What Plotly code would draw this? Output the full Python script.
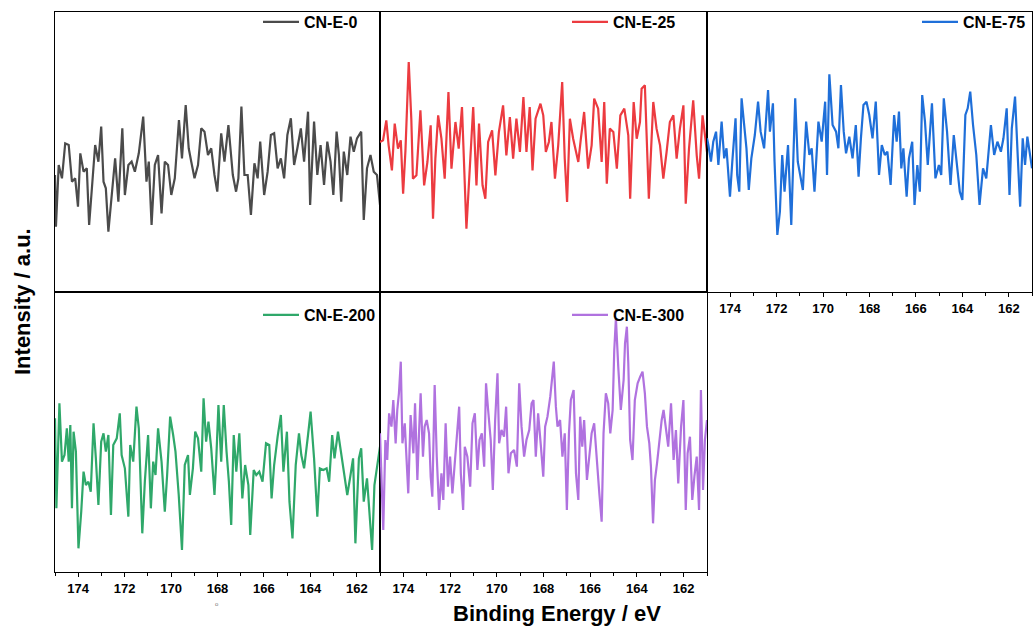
import plotly.graph_objects as go

# ---------------- data ----------------
tick_energies = [174, 172, 170, 168, 166, 164, 162]
series_names = ["CN-E-0", "CN-E-25", "CN-E-75", "CN-E-200", "CN-E-300"]
series_colors = ["#4b4b4b", "#ec3b40", "#1f6fd9", "#2fa86a", "#b072df"]

energy_0 = [175.00, 174.96, 174.84, 174.70, 174.56, 174.41, 174.27, 174.13, 174.01, 173.91,
            173.77, 173.63, 173.53, 173.41, 173.27, 173.13, 173.01, 172.91, 172.81, 172.70,
            172.56, 172.41, 172.27, 172.10, 171.99, 171.84, 171.70, 171.56, 171.39, 171.20,
            171.06, 170.96, 170.84, 170.70, 170.56, 170.41, 170.27, 170.13, 169.99, 169.84,
            169.66, 169.53, 169.37, 169.24, 169.13, 168.99, 168.84, 168.70, 168.56, 168.41,
            168.27, 168.13, 168.01, 167.84, 167.70, 167.53, 167.34, 167.20, 167.10, 166.97,
            166.84, 166.70, 166.56, 166.41, 166.27, 166.16, 165.99, 165.84, 165.70, 165.56,
            165.41, 165.27, 165.13, 164.99, 164.84, 164.70, 164.56, 164.41, 164.27, 164.10,
            164.01, 163.84, 163.70, 163.56, 163.41, 163.27, 163.13, 163.01, 162.87, 162.77,
            162.67, 162.56, 162.41, 162.27, 162.13, 161.99, 161.81, 161.70, 161.56, 161.41,
            161.27, 161.13, 161.00]
intensity_0 = [760, 605, 790, 750, 855, 850, 740, 750, 665, 825,
               770, 780, 610, 730, 850, 800, 905, 740, 720, 590,
               700, 810, 680, 900, 700, 790, 800, 770, 825, 935,
               740, 800, 610, 790, 820, 645, 800, 790, 700, 750,
               925, 810, 970, 840, 800, 750, 790, 900, 890, 820,
               840, 760, 710, 885, 800, 910, 760, 710, 750, 965,
               760, 760, 640, 795, 750, 860, 700, 770, 880, 885,
               780, 810, 750, 880, 930, 790, 840, 900, 800, 950,
               670, 920, 760, 850, 730, 860, 800, 700, 890, 820,
               680, 830, 760, 875, 830, 870, 890, 625, 780, 820,
               770, 760, 670]

energy_25 = [175.00, 174.87, 174.73, 174.63, 174.49, 174.37, 174.23, 174.11, 174.01, 173.91,
             173.77, 173.66, 173.59, 173.44, 173.27, 173.11, 172.97, 172.83, 172.73, 172.63,
             172.51, 172.37, 172.23, 172.07, 171.94, 171.77, 171.63, 171.49, 171.30, 171.16,
             171.01, 170.87, 170.76, 170.61, 170.49, 170.37, 170.20, 170.06, 169.91, 169.73,
             169.59, 169.44, 169.30, 169.16, 169.01, 168.86, 168.73, 168.59, 168.47, 168.34,
             168.13, 168.01, 167.90, 167.77, 167.66, 167.51, 167.37, 167.20, 167.09, 166.99,
             166.87, 166.73, 166.63, 166.51, 166.40, 166.26, 166.09, 165.94, 165.83, 165.66,
             165.51, 165.40, 165.29, 165.16, 165.01, 164.86, 164.71, 164.54, 164.37, 164.29,
             164.14, 164.01, 163.87, 163.80, 163.66, 163.59, 163.49, 163.30, 163.16, 163.01,
             162.87, 162.73, 162.59, 162.44, 162.30, 162.16, 162.01, 161.91, 161.77, 161.59,
             161.44, 161.34, 161.19, 161.00]
intensity_25 = [730, 735, 795, 720, 645, 785, 710, 735, 575, 705,
                970, 800, 620, 630, 825, 600, 670, 780, 500, 680,
                810, 740, 620, 880, 650, 790, 710, 835, 470, 660,
                835, 600, 785, 600, 560, 730, 765, 630, 760, 840,
                690, 805, 680, 800, 700, 865, 700, 835, 645, 800,
                845, 810, 700, 730, 790, 620, 720, 910, 680, 550,
                800, 740, 710, 670, 740, 820, 650, 720, 860, 830,
                670, 850, 605, 770, 760, 650, 810, 830, 750, 560,
                850, 740, 790, 890, 900, 780, 560, 850, 770, 720,
                620, 700, 790, 810, 680, 770, 840, 545, 710, 855,
                690, 620, 810, 700]

energy_75 = [175.00, 174.94, 174.83, 174.73, 174.61, 174.51, 174.37, 174.26, 174.16, 174.01,
             173.91, 173.77, 173.70, 173.61, 173.51, 173.40, 173.30, 173.20, 173.09, 172.94,
             172.80, 172.69, 172.54, 172.37, 172.29, 172.16, 172.09, 171.97, 171.86, 171.76,
             171.66, 171.51, 171.37, 171.20, 171.09, 170.87, 170.73, 170.59, 170.49, 170.37,
             170.20, 170.06, 169.91, 169.83, 169.73, 169.59, 169.44, 169.34, 169.23, 169.11,
             169.01, 168.87, 168.73, 168.59, 168.47, 168.37, 168.26, 168.13, 168.01, 167.87,
             167.73, 167.59, 167.47, 167.34, 167.23, 167.09, 166.94, 166.83, 166.73, 166.63,
             166.54, 166.40, 166.30, 166.16, 166.06, 165.94, 165.83, 165.73, 165.61, 165.49,
             165.31, 165.16, 165.01, 164.91, 164.80, 164.66, 164.51, 164.37, 164.27, 164.11,
             164.00, 163.87, 163.77, 163.66, 163.54, 163.40, 163.26, 163.11, 162.97, 162.87,
             162.77, 162.63, 162.49, 162.34, 162.23, 162.09, 161.97, 161.87, 161.73, 161.61,
             161.51, 161.40, 161.30, 161.20, 161.00]
intensity_75 = [780, 760, 710, 770, 800, 700, 830, 720, 750, 605,
                710, 840, 670, 620, 900, 820, 750, 625, 720, 790,
                890, 800, 750, 925, 800, 885, 710, 490, 560, 730,
                620, 760, 520, 900, 710, 625, 830, 730, 750, 620,
                830, 770, 890, 670, 972, 820, 800, 750, 940, 800,
                735, 785, 720, 820, 665, 780, 880, 890, 850, 780,
                890, 670, 760, 730, 740, 640, 850, 770, 860, 690,
                750, 605, 720, 770, 580, 700, 620, 910, 830, 700,
                885, 660, 700, 670, 900, 800, 640, 790, 730, 620,
                595, 850, 870, 920, 820, 730, 580, 690, 660, 740,
                820, 730, 770, 740, 780, 870, 610, 810, 905, 720,
                575, 780, 700, 785, 690]

energy_200 = [175.00, 174.94, 174.81, 174.70, 174.59, 174.49, 174.41, 174.34, 174.27, 174.20,
              174.10, 173.99, 173.87, 173.77, 173.67, 173.56, 173.46, 173.34, 173.24, 173.13,
              173.01, 172.91, 172.81, 172.70, 172.59, 172.49, 172.34, 172.21, 172.13, 171.99,
              171.84, 171.76, 171.63, 171.49, 171.39, 171.24, 171.13, 170.99, 170.87, 170.77,
              170.67, 170.56, 170.41, 170.27, 170.17, 170.04, 169.91, 169.81, 169.67, 169.53,
              169.41, 169.27, 169.19, 169.06, 168.96, 168.84, 168.70, 168.60, 168.49, 168.39,
              168.27, 168.13, 168.06, 167.96, 167.84, 167.73, 167.61, 167.51, 167.41, 167.30,
              167.19, 167.06, 166.93, 166.81, 166.67, 166.59, 166.44, 166.33, 166.20, 166.06,
              165.91, 165.77, 165.67, 165.56, 165.41, 165.27, 165.16, 165.01, 164.90, 164.77,
              164.63, 164.49, 164.39, 164.27, 164.10, 163.99, 163.84, 163.70, 163.59, 163.44,
              163.30, 163.19, 163.06, 162.96, 162.81, 162.70, 162.56, 162.41, 162.27, 162.16,
              162.06, 161.91, 161.81, 161.70, 161.56, 161.44, 161.34, 161.24, 161.11, 161.00]
intensity_200 = [900, 630, 945, 770, 790, 870, 770, 880, 630, 860,
                 800, 510, 620, 740, 700, 710, 680, 885, 780, 640,
                 830, 855, 800, 850, 610, 820, 840, 915, 790, 750,
                 605, 820, 770, 935, 870, 555, 710, 850, 630, 770,
                 730, 870, 770, 620, 730, 905, 850, 800, 670, 505,
                 760, 790, 670, 750, 860, 840, 740, 960, 830, 890,
                 810, 670, 765, 940, 770, 940, 800, 710, 580, 850,
                 740, 855, 660, 760, 700, 550, 745, 730, 740, 710,
                 825, 820, 660, 760, 845, 910, 740, 860, 650, 540,
                 760, 855, 790, 750, 850, 920, 780, 605, 750, 745,
                 750, 710, 850, 780, 860, 805, 750, 670, 730, 780,
                 525, 780, 810, 650, 720, 590, 505, 700, 760, 815]

energy_300 = [175.00, 174.91, 174.86, 174.77, 174.69, 174.61, 174.51, 174.43, 174.33, 174.26,
              174.19, 174.11, 174.04, 173.94, 173.86, 173.79, 173.69, 173.57, 173.50, 173.40,
              173.33, 173.26, 173.16, 173.09, 173.00, 172.90, 172.83, 172.76, 172.66, 172.57,
              172.47, 172.37, 172.29, 172.19, 172.09, 172.00, 171.90, 171.80, 171.71, 171.61,
              171.54, 171.44, 171.37, 171.26, 171.14, 171.04, 170.94, 170.83, 170.74, 170.64,
              170.54, 170.46, 170.37, 170.26, 170.17, 170.07, 169.97, 169.90, 169.80, 169.69,
              169.60, 169.50, 169.40, 169.26, 169.14, 169.04, 168.94, 168.83, 168.73, 168.61,
              168.51, 168.43, 168.33, 168.23, 168.11, 168.01, 167.93, 167.83, 167.71, 167.63,
              167.56, 167.47, 167.40, 167.29, 167.19, 167.09, 167.00, 166.91, 166.83, 166.71,
              166.61, 166.51, 166.43, 166.34, 166.26, 166.14, 166.04, 165.94, 165.83, 165.71,
              165.61, 165.51, 165.43, 165.33, 165.23, 165.14, 165.04, 164.97, 164.90, 164.80,
              164.69, 164.57, 164.51, 164.43, 164.37, 164.29, 164.19, 164.09, 163.97, 163.86,
              163.76, 163.66, 163.57, 163.47, 163.40, 163.31, 163.23, 163.14, 163.04, 162.94,
              162.86, 162.76, 162.66, 162.54, 162.43, 162.33, 162.23, 162.11, 162.01, 161.91,
              161.83, 161.73, 161.63, 161.54, 161.44, 161.34, 161.26, 161.17, 161.09, 161.00]
intensity_300 = [600, 360, 310, 580, 520, 660, 620, 700, 570, 670,
                 720, 815, 570, 630, 530, 420, 655, 540, 690, 460,
                 600, 720, 530, 620, 640, 600, 470, 410, 745, 530,
                 370, 480, 400, 630, 440, 530, 420, 510, 600, 680,
                 480, 370, 560, 530, 440, 630, 660, 490, 580, 600,
                 500, 750, 670, 580, 430, 640, 780, 570, 610, 590,
                 680, 480, 540, 550, 500, 750, 620, 530, 580, 610,
                 690, 700, 530, 660, 560, 470, 620, 650, 710, 770,
                 815, 680, 620, 640, 530, 600, 370, 600, 700, 730,
                 480, 400, 650, 560, 640, 460, 530, 600, 630, 500,
                 420, 335, 600, 720, 690, 600, 670, 850, 945, 800,
                 670, 760, 870, 920, 810, 580, 520, 700, 750, 770,
                 785, 720, 620, 570, 500, 330, 460, 510, 580, 640,
                 670, 610, 560, 690, 520, 610, 450, 620, 700, 370,
                 540, 590, 400, 470, 530, 370, 730, 430, 580, 640]

energies = [energy_0, energy_25, energy_75, energy_200, energy_300]
intensities = [intensity_0, intensity_25, intensity_75, intensity_200, intensity_300]
y_ranges = [[409, 1249], [280, 1120], [319, 1159], [439, 1279], [184, 1024]]

# ---------------- layout geometry ----------------
W, H = 1033, 630
col_px = [(55, 380), (380, 707), (707, 1032)]
row_px = [(12, 292), (292, 572)]
panel_cells = [(0, 0), (0, 1), (0, 2), (1, 0), (1, 1)]
show_ticks = [False, False, True, True, True]
legend_px = [(258, 22), (567, 22), (917, 22), (258, 315), (567, 315)]

FONT = "Liberation Sans, Arial, sans-serif"

fig = go.Figure()
layout = dict(
    width=W, height=H,
    margin=dict(l=0, r=0, t=0, b=0),
    paper_bgcolor="white", plot_bgcolor="white",
    template="none",
    font=dict(family=FONT, color="black"),
)

for i in range(5):
    r, c = panel_cells[i]
    ax = "" if i == 0 else str(i + 1)
    lg = "legend" if i == 0 else f"legend{i + 1}"
    fig.add_trace(go.Scatter(
        x=energies[i], y=intensities[i], mode="lines",
        name=series_names[i],
        line=dict(color=series_colors[i], width=2.2),
        xaxis="x" + ax, yaxis="y" + ax,
        legend=lg, showlegend=True,
    ))
    x0, x1 = col_px[c]
    y0, y1 = row_px[r]
    xa = dict(
        domain=[x0 / W, x1 / W], range=[175, 161], anchor="y" + ax,
        showline=True, mirror=True, linecolor="black", linewidth=1,
        showgrid=False, zeroline=False,
        tickvals=tick_energies,
        ticks="outside" if show_ticks[i] else "",
        ticklen=4, tickwidth=1, tickcolor="black",
        showticklabels=show_ticks[i],
        tickfont=dict(family=FONT, size=13, color="black", weight="bold"),
    )
    if show_ticks[i]:
        xa["minor"] = dict(dtick=1, tick0=175, ticks="outside", ticklen=3,
                           tickcolor="black", tickwidth=1, showgrid=False)
    ya = dict(
        domain=[1 - y1 / H, 1 - y0 / H], range=y_ranges[i], anchor="x" + ax,
        showline=True, mirror=True, linecolor="black", linewidth=1,
        showgrid=False, zeroline=False, ticks="", showticklabels=False,
    )
    layout["xaxis" + ax] = xa
    layout["yaxis" + ax] = ya
    lx, ly = legend_px[i]
    layout[lg] = dict(
        x=lx / W, y=1 - ly / H, xanchor="left", yanchor="middle",
        bgcolor="rgba(0,0,0,0)", borderwidth=0, itemwidth=36,
        font=dict(family=FONT, size=16, color="black", weight="bold"),
        itemclick=False, itemdoubleclick=False,
    )

layout["annotations"] = [
    dict(text="Binding Energy / eV", x=557 / W, y=1 - 613 / H, xref="paper", yref="paper",
         showarrow=False, xanchor="center", yanchor="middle",
         font=dict(family=FONT, size=22, color="black", weight="bold")),
    dict(text="Intensity / a.u.", x=22 / W, y=1 - 302 / H, xref="paper", yref="paper",
         showarrow=False, textangle=-90, xanchor="center", yanchor="middle",
         font=dict(family=FONT, size=22, color="black", weight="bold")),
    dict(text="o", x=217 / W, y=1 - 604 / H, xref="paper", yref="paper",
         showarrow=False, xanchor="center", yanchor="middle",
         font=dict(family=FONT, size=6, color="#777777")),
]

fig.update_layout(**layout)
fig.write_html(
    "out.html",
    config={"displayModeBar": False},
    post_script="document.body.style.margin='0px';document.body.style.overflow='hidden';",
)
